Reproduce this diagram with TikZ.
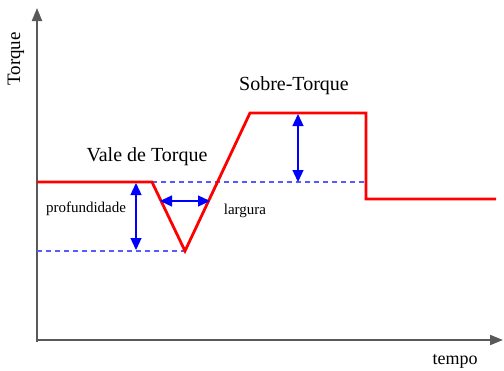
\documentclass[tikz,border=0pt]{standalone}
\usepackage{fontspec}
\setmainfont{Liberation Serif}
\usepackage{tikz}
\usetikzlibrary{arrows.meta}

\tikzset{
  axis/.style={draw=gray!70!black, line width=2pt, -{Triangle[length=13pt,width=10pt]}},
  curve/.style={draw=red, line width=2.8pt, line join=miter},
  guide/.style={draw=blue!65, line width=1.1pt, dash pattern=on 5pt off 4pt},
  span/.style={draw=blue, line width=1.3pt, {Triangle[length=12pt,width=11pt]}-{Triangle[length=12pt,width=11pt]}}
}

\begin{document}
\begin{tikzpicture}[x=1pt, y=-1pt]
            \useasboundingbox (0,0) rectangle (504,370);
            \coordinate (o) at (37,342);
            \coordinate (ytop) at (37,8);
            \coordinate (xend) at (503,340);
            \draw[axis] (o) -- (ytop);
            \draw[axis] (37,340) -- (xend);
            \node[rotate=90, font=\fontsize{19}{21}\selectfont] (ylabel) at (16,59) {Torque};
            \node[font=\fontsize{18}{20}\selectfont] (xlabel) at (455,361) {tempo};
            % pontos da curva
            \coordinate (a) at (37,182);
            \coordinate (b) at (152,182);
            \coordinate (c) at (185,251);
            \coordinate (d) at (250,113);
            \coordinate (e) at (366,113);
            \coordinate (f) at (366,199);
            \coordinate (g) at (496,199);
            \coordinate (l0) at (37,251);
            \draw[guide] (b) -- (366,182);
            \draw[guide] (l0) -- (c);
            \draw[curve] (a) -- (b) -- (c) -- (d) -- (e) -- (f) -- (g);
            % setas
            \coordinate (p1) at (136,183);
            \coordinate (p2) at (136,250);
            \coordinate (w1) at (160,201);
            \coordinate (w2) at (210,201);
            \coordinate (s1) at (298,114);
            \coordinate (s2) at (298,182);
            \draw[span] (p1) -- (p2);
            \draw[span] (w1) -- (w2);
            \draw[span] (s1) -- (s2);
            \node[font=\fontsize{20}{22}\selectfont] (vale) at (147,157) {Vale de Torque};
            \node[font=\fontsize{20}{22}\selectfont] (sobre) at (294,86) {Sobre-Torque};
            \node[font=\fontsize{15}{17}\selectfont] (prof) at (86,209) {profundidade};
            \node[font=\fontsize{15}{17}\selectfont] (larg) at (245,211) {largura};
        \end{tikzpicture}
\end{document}
